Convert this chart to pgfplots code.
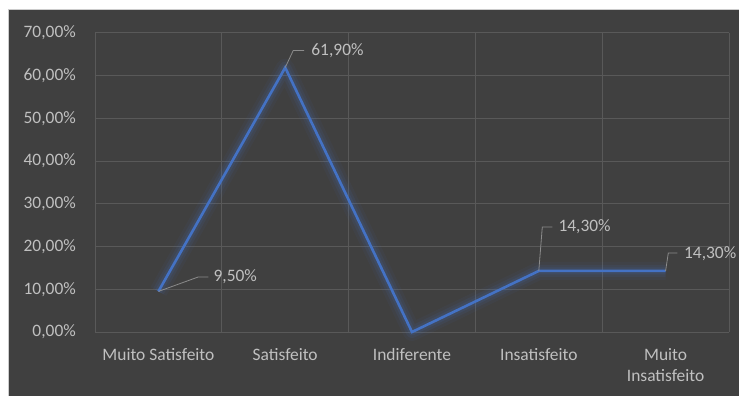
\documentclass[border=0pt]{standalone}
\usepackage{fontspec}
\setmainfont{Carlito}
\usepackage{pgfplots}
\pgfplotsset{compat=1.18}
\definecolor{bgc}{HTML}{404040}
\definecolor{gridc}{HTML}{595959}
\definecolor{txtc}{HTML}{C0C0C0}
\definecolor{linec}{HTML}{4472C4}
\definecolor{callc}{HTML}{8C8C8C}
\begin{document}
\begin{tikzpicture}
\useasboundingbox (0,0) rectangle (739bp,396bp);
\fill[white] (0,0) rectangle (739bp,396bp);
\fill[bgc] (9bp,0) rectangle (739bp,386bp);
\draw[black!20, line width=1bp] (8.5bp,0) -- (8.5bp,386.5bp) -- (739bp,386.5bp);
\begin{axis}[
  at={(95bp,64bp)}, anchor=south west,
  scale only axis, width=634bp, height=299bp,
  xmin=-0.5, xmax=4.5, ymin=0, ymax=70,
  axis line style={draw=none},
  major tick length=0pt, minor tick length=0pt,
  xtick={0,1,2,3,4},
  xticklabels={Muito Satisfeito,Satisfeito,Indiferente,Insatisfeito,{Muito\\Insatisfeito}},
  minor xtick={-0.5,0.5,1.5,2.5,3.5,4.5},
  xminorgrids,
  ytick={0,10,...,70},
  yticklabels={{0,00\%},{10,00\%},{20,00\%},{30,00\%},{40,00\%},{50,00\%},{60,00\%},{70,00\%}},
  ymajorgrids,
  grid style={gridc, line width=1bp},
  minor grid style={gridc, line width=1bp},
  ticklabel style={font=\fontsize{17.5}{21}\selectfont, text=txtc},
  yticklabel style={inner sep=0pt, anchor=east, xshift=-19bp},
  xticklabel style={inner sep=0pt, anchor=north, yshift=-16bp, align=center},
  clip=false,
]
\addplot[linec, opacity=0.06, line width=18bp, line join=round] coordinates {(0,9.5) (1,61.9) (2,0) (3,14.3) (4,14.3)};
\addplot[linec, opacity=0.09, line width=12bp, line join=round] coordinates {(0,9.5) (1,61.9) (2,0) (3,14.3) (4,14.3)};
\addplot[linec, opacity=0.13, line width=7bp, line join=round] coordinates {(0,9.5) (1,61.9) (2,0) (3,14.3) (4,14.3)};
\addplot[linec, line width=2.6bp, line join=miter] coordinates {(0,9.5) (1,61.9) (2,0) (3,14.3) (4,14.3)};
\begin{scope}[callc, line width=0.8bp]
\draw (axis cs:0,9.5) -- ++(40bp,14.5bp) -- ++(10bp,0bp);
\draw (axis cs:1,61.9) -- ++(8bp,17bp) -- ++(11bp,0bp);
\draw (axis cs:3,14.3) -- ++(3.5bp,44bp) -- ++(10bp,0bp);
\draw (axis cs:4,14.3) -- ++(2.7bp,18bp) -- ++(9bp,0bp);
\end{scope}
\begin{scope}[every node/.style={text=txtc, font=\fontsize{17.5}{21}\selectfont, inner sep=0pt, anchor=west}]
\node at ([shift={(55bp,15bp)}]axis cs:0,9.5) {9,50\%};
\node at ([shift={(26bp,16.5bp)}]axis cs:1,61.9) {61,90\%};
\node at ([shift={(19.5bp,44bp)}]axis cs:3,14.3) {14,30\%};
\node at ([shift={(18.3bp,17.7bp)}]axis cs:4,14.3) {14,30\%};
\end{scope}
\end{axis}
\end{tikzpicture}
\end{document}
